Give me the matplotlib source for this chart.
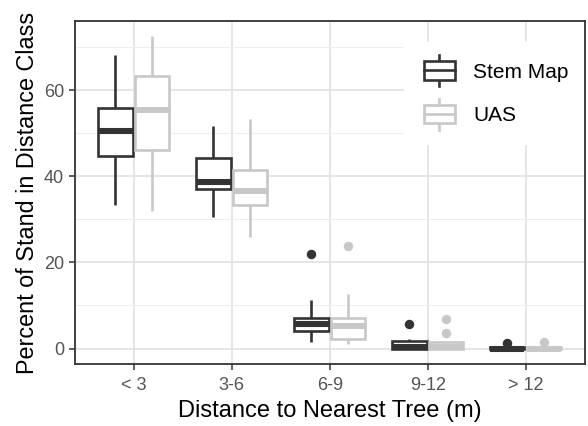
import matplotlib
matplotlib.use("Agg")
import matplotlib.pyplot as plt
from matplotlib.lines import Line2D
from matplotlib.patches import Rectangle
from matplotlib.legend_handler import HandlerBase

plt.rcParams['font.family'] = ['Liberation Sans', 'DejaVu Sans']

categories = ["< 3", "3-6", "6-9", "9-12", "> 12"]
series = ["Stem Map", "UAS"]
colors = {"Stem Map": "#333333", "UAS": "#c8c8c8"}

stem_whislo = [33.3, 30.5, 1.5, 0.0, 0.0]
stem_q1 = [44.8, 37.0, 4.0, 0.0, 0.0]
stem_med = [50.6, 38.6, 5.6, 0.3, 0.0]
stem_q3 = [55.8, 44.3, 7.2, 1.7, 0.3]
stem_whishi = [68.2, 51.8, 11.2, 2.3, 0.8]
stem_fliers = [[], [], [21.9], [5.6], [1.3]]

uas_whislo = [32.0, 25.9, 1.0, 0.0, 0.0]
uas_q1 = [46.1, 33.3, 2.2, 0.0, 0.0]
uas_med = [55.4, 36.6, 5.3, 0.4, 0.0]
uas_q3 = [63.4, 41.5, 7.1, 1.5, 0.3]
uas_whishi = [72.5, 53.3, 12.6, 1.5, 0.3]
uas_fliers = [[], [], [23.8], [6.8, 3.5], [1.5]]

data = {
    "Stem Map": (stem_whislo, stem_q1, stem_med, stem_q3, stem_whishi, stem_fliers),
    "UAS": (uas_whislo, uas_q1, uas_med, uas_q3, uas_whishi, uas_fliers),
}

W, H = 588, 426
fig = plt.figure(figsize=(W/100, H/100), dpi=100)
L, R, T, B = 75, 584.5, 21, 364
ax = fig.add_axes([L/W, 1-B/H, (R-L)/W, (B-T)/H])

offsets = {"Stem Map": -0.1875, "UAS": 0.1875}
lw = 1.9
for s in series:
    wl, q1, med, q3, wh, fl = data[s]
    stats = []
    for i in range(len(categories)):
        stats.append(dict(whislo=wl[i], q1=q1[i], med=med[i], q3=q3[i], whishi=wh[i], fliers=fl[i]))
    pos = [i + 1 + offsets[s] for i in range(len(categories))]
    c = colors[s]
    ax.bxp(stats, positions=pos, widths=0.35, patch_artist=True, showcaps=False,
           boxprops=dict(facecolor="white", edgecolor=c, linewidth=lw),
           whiskerprops=dict(color=c, linewidth=lw, solid_capstyle="butt"),
           medianprops=dict(color=c, linewidth=lw*2.3, solid_capstyle="butt"),
           flierprops=dict(marker="o", markerfacecolor=c, markeredgecolor=c, markersize=5.8),
           zorder=3)

ax.set_xlim(0.4, 5.6)
ax.set_ylim(-3.6, 76.1)
ax.set_xticks(range(1, 6))
ax.set_xticklabels(categories)
ax.set_yticks([0, 20, 40, 60])
ax.set_yticks([10, 30, 50, 70], minor=True)
ax.grid(True, which="major", color="#e3e3e3", linewidth=1.3, zorder=0)
ax.grid(True, which="minor", axis="y", color="#eeeeee", linewidth=0.8, zorder=0)
ax.set_axisbelow(True)
ax.tick_params(axis="both", which="major", colors="#333333", labelcolor="#555555",
               labelsize=13, length=4, width=1.1)
ax.tick_params(axis="x", which="major", pad=5)
ax.tick_params(axis="y", which="major", pad=4)
ax.tick_params(axis="both", which="minor", length=0)
for sp in ax.spines.values():
    sp.set_color("#333333")
    sp.set_linewidth(1.3)
    sp.set_zorder(10)
ax.set_xlabel("Distance to Nearest Tree (m)", fontsize=17, color="black", labelpad=5)
ax.set_ylabel("Percent of Stand in Distance Class", fontsize=16.8, color="black", labelpad=3)


class BoxHandler(HandlerBase):
    def __init__(self, color):
        super().__init__()
        self.color = color

    def create_artists(self, legend, orig_handle, xdescent, ydescent, width, height, fontsize, trans):
        c = self.color
        cx = width / 2 - xdescent
        bw = width * 0.95
        bh = height * 0.95
        y0 = height / 2 - bh / 2 - ydescent
        rect = Rectangle((cx - bw/2, y0), bw, bh, facecolor="white", edgecolor=c, linewidth=lw, transform=trans)
        med = Line2D([cx - bw/2, cx + bw/2], [y0 + bh/2]*2, color=c, linewidth=lw, transform=trans)
        w1 = Line2D([cx, cx], [y0 + bh, y0 + bh + height*0.33], color=c, linewidth=lw, transform=trans)
        w2 = Line2D([cx, cx], [y0 - height*0.33, y0], color=c, linewidth=lw, transform=trans)
        return [w1, w2, rect, med]


h1 = Rectangle((0, 0), 1, 1)
h2 = Rectangle((0, 0), 1, 1)
leg = ax.legend([h1, h2], series, handler_map={h1: BoxHandler(colors["Stem Map"]), h2: BoxHandler(colors["UAS"])},
                loc="upper left", bbox_to_anchor=((404 - L) / (R - L), (B - 42) / (B - T)),
                frameon=True, fancybox=False,
                edgecolor="white", facecolor="white", framealpha=1, fontsize=15,
                handlelength=1.6, handleheight=1.05, labelspacing=1.1, handletextpad=0.82,
                borderpad=0.9, borderaxespad=0.0)
leg.set_zorder(5)

fig.savefig("out.png", dpi=100)
